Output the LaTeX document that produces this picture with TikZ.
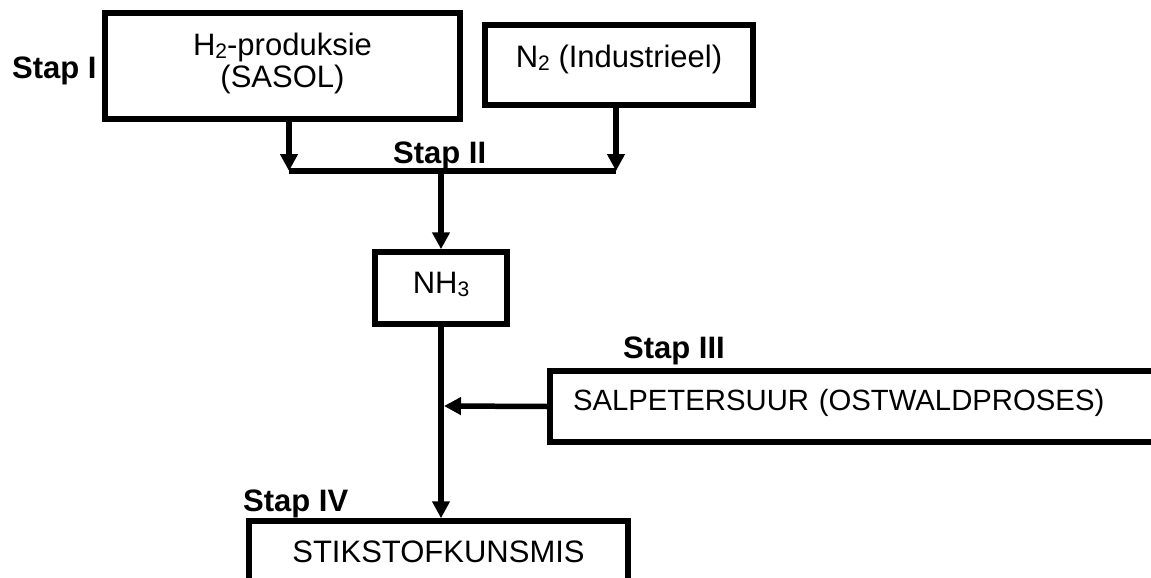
\documentclass[tikz,border=0pt]{standalone}
\usepackage{fontspec}
\setmainfont{Liberation Sans}
\usetikzlibrary{arrows.meta}
\newcommand\chsub[1]{\raisebox{-0.12em}{\fontsize{21}{21}\selectfont #1}}
\begin{document}
\begin{tikzpicture}[x=1pt,y=-1pt,
  box/.style={draw, line width=5.5pt, rectangle, inner sep=0pt,
    font=\fontsize{31}{32.5}\selectfont},
  lbl/.style={inner sep=0pt, anchor=base west,
    font=\bfseries\fontsize{31}{31}\selectfont},
  conn/.style={line width=5.5pt},
  arr/.style={conn, -{Triangle[width=17pt,length=17pt]}}]
\useasboundingbox (0,0) rectangle (1151,578);
\clip (0,0) rectangle (1151,578);
% boxes
\node[box, minimum width=355pt, minimum height=106pt, align=center] (h2) at (282.5,66)
  {H\chsub{2}-produksie\\(SASOL)\rule[-11.5pt]{0pt}{1pt}};
\node[box, minimum width=268pt, minimum height=80pt, text height=22pt, text depth=18pt] (n2) at (619,65)
  {N\chsub{2} (Industrieel)};
\node[box, minimum width=132pt, minimum height=72pt, text height=22pt, text depth=12pt] (nh3) at (441,288)
  {NH\chsub{3}};
\node[box, inner xsep=23pt, text width=569pt, align=left, minimum height=71pt,
  text height=22pt, text depth=15pt, font=\fontsize{29.3}{32}\selectfont] (hno3) at (857.5,406.5)
  {SALPETERSUUR (OSTWALDPROSES)};
\node[box, minimum width=379pt, minimum height=79pt, text height=22pt, text depth=19pt] (kun) at (438.5,560.5)
  {STIKSTOFKUNSMIS};
% labels
\node[lbl] (s1) at (12,78) {Stap I};
\node[lbl] (s2) at (393,163) {Stap II};
\node[lbl] (s3) at (623,358) {Stap III};
\node[lbl] (s4) at (243,511) {Stap IV};
% junctions
\coordinate (ja) at (289,171);
\coordinate (jb) at (616,171);
\coordinate (jm) at (441,171);
\coordinate (jc) at (444,406);
% connectors
\draw[arr] (ja |- h2.south) -- (ja);
\draw[arr] (jb |- n2.south) -- (jb);
\draw[conn] (ja) -- (jb);
\draw[arr] (jm) -- (nh3.north);
\draw[arr] (nh3.south) -- (nh3.south |- kun.north);
\draw[arr] (hno3.west) -- (jc);
\end{tikzpicture}
\end{document}
